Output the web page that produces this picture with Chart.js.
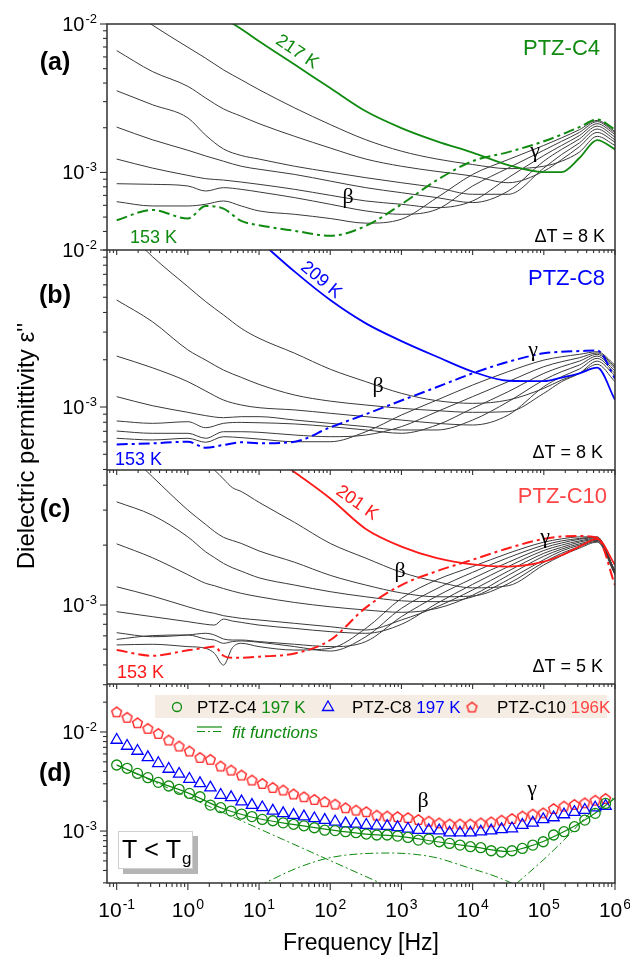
<!DOCTYPE html>
<html>
<head>
<meta charset="utf-8">
<script src="https://cdn.jsdelivr.net/npm/chart.js@4/dist/chart.umd.min.js"></script>
<style>
  html, body { margin: 0; padding: 0; background: #fff; }
  #wrap { position: relative; width: 630px; height: 957px; }
</style>
</head>
<body>
<div id="wrap"><canvas id="chart" width="630" height="957"></canvas></div>
<script>
// ---- frequency grids (Hz) ----
const freqAB = [0.1, 0.316, 1, 1.78, 3.16, 5.62, 10, 31.6, 100, 316, 1000, 3160, 10000, 31600, 100000, 178000, 316000, 562000, 1000000];
const freqC = [0.1, 0.316, 1, 1.78, 2.37, 3.16, 4.22, 5.62, 10, 31.6, 100, 316, 1000, 3160, 10000, 31600, 100000, 178000, 316000, 562000, 1000000];

// ---- (a) PTZ-C4, dT = 8 K ----
const c4_153 = [4.76e-4, 5.59e-4, 4.89e-4, 5.94e-4, 5.70e-4, 4.71e-4, 4.41e-4, 4.04e-4, 3.74e-4, 4.36e-4, 6.10e-4, 8.88e-4, 1.19e-3, 1.37e-3, 1.62e-3, 1.80e-3, 2.02e-3, 2.27e-3, 1.94e-3];
const c4_161 = [6.35e-4, 5.94e-4, 5.94e-4, 6.10e-4, 6.42e-4, 5.94e-4, 5.50e-4, 5.22e-4, 4.89e-4, 4.55e-4, 4.84e-4, 6.76e-4, 9.69e-4, 1.22e-3, 1.52e-3, 1.71e-3, 1.94e-3, 2.24e-3, 1.89e-3];
const c4_169 = [8.39e-4, 8.31e-4, 8.10e-4, 7.49e-4, 7.89e-4, 7.69e-4, 7.38e-4, 6.76e-4, 6.10e-4, 5.50e-4, 5.22e-4, 5.64e-4, 8.10e-4, 1.07e-3, 1.41e-3, 1.62e-3, 1.86e-3, 2.20e-3, 1.85e-3];
const c4_177 = [1.23e-3, 1.07e-3, 9.55e-4, 9.07e-4, 8.88e-4, 8.61e-4, 8.31e-4, 7.69e-4, 7.01e-4, 6.42e-4, 6.10e-4, 5.79e-4, 6.42e-4, 9.21e-4, 1.30e-3, 1.52e-3, 1.77e-3, 2.13e-3, 1.80e-3];
const c4_185 = [2.02e-3, 1.66e-3, 1.41e-3, 1.29e-3, 1.19e-3, 1.10e-3, 1.05e-3, 9.69e-4, 8.74e-4, 7.89e-4, 7.30e-4, 6.76e-4, 6.26e-4, 7.49e-4, 1.19e-3, 1.43e-3, 1.68e-3, 2.05e-3, 1.73e-3];
const c4_193 = [3.55e-3, 2.86e-3, 2.33e-3, 1.78e-3, 1.44e-3, 1.30e-3, 1.23e-3, 1.10e-3, 1.005e-3, 9.21e-4, 8.52e-4, 7.89e-4, 7.12e-4, 7.12e-4, 1.07e-3, 1.32e-3, 1.58e-3, 1.96e-3, 1.66e-3];
const c4_201 = [6.62e-3, 4.79e-3, 3.80e-3, 3.17e-3, 2.68e-3, 2.39e-3, 2.13e-3, 1.75e-3, 1.46e-3, 1.23e-3, 1.10e-3, 1.015e-3, 9.45e-4, 8.52e-4, 1.02e-3, 1.22e-3, 1.49e-3, 1.86e-3, 1.60e-3];
const c4_209 = [1.45e-2, 9.85e-3, 6.97e-3, 5.88e-3, 4.91e-3, 4.21e-3, 3.61e-3, 2.72e-3, 2.10e-3, 1.66e-3, 1.39e-3, 1.23e-3, 1.13e-3, 1.06e-3, 1.10e-3, 1.19e-3, 1.37e-3, 1.75e-3, 1.52e-3];
const c4_217 = [null, null, null, null, 1.10e-2, 9.26e-3, 7.65e-3, 5.33e-3, 3.70e-3, 2.58e-3, 1.99e-3, 1.62e-3, 1.36e-3, 1.12e-3, 1.005e-3, 1.005e-3, 1.25e-3, 1.65e-3, 1.43e-3];

// ---- (b) PTZ-C8, dT = 8 K (k1 = coldest black curve) ----
const c8_153 = [5.78e-4, 5.87e-4, 6.01e-4, 5.50e-4, 5.73e-4, 5.96e-4, 5.87e-4, 6.01e-4, 7.42e-4, 9.00e-4, 1.10e-3, 1.34e-3, 1.64e-3, 1.94e-3, 2.20e-3, 2.25e-3, 2.27e-3, 2.29e-3, 1.52e-3];
const c8_k1 = [6.32e-4, 6.17e-4, 6.32e-4, 5.96e-4, 6.47e-4, 6.38e-4, 6.25e-4, 6.01e-4, 6.01e-4, 6.96e-4, 8.89e-4, 1.108e-3, 1.38e-3, 1.68e-3, 1.99e-3, 2.09e-3, 2.165e-3, 2.25e-3, 1.85e-3];
const c8_k2 = [7.03e-4, 6.80e-4, 6.80e-4, 6.32e-4, 6.96e-4, 6.96e-4, 6.90e-4, 6.63e-4, 6.47e-4, 6.63e-4, 7.50e-4, 9.34e-4, 1.164e-3, 1.45e-3, 1.806e-3, 1.944e-3, 2.06e-3, 2.21e-3, 1.806e-3];
const c8_k3 = [8.15e-4, 7.87e-4, 8.06e-4, 7.38e-4, 7.87e-4, 7.98e-4, 7.94e-4, 7.80e-4, 7.50e-4, 7.14e-4, 6.80e-4, 7.68e-4, 9.81e-4, 1.252e-3, 1.638e-3, 1.806e-3, 1.96e-3, 2.165e-3, 1.763e-3];
const c8_k4 = [1.164e-3, 1.02e-3, 9.25e-4, 8.81e-4, 8.55e-4, 8.68e-4, 8.68e-4, 8.26e-4, 7.87e-4, 7.50e-4, 7.14e-4, 7.14e-4, 8.26e-4, 1.081e-3, 1.486e-3, 1.679e-3, 1.851e-3, 2.11e-3, 1.696e-3];
const c8_k5 = [2.11e-3, 1.78e-3, 1.45e-3, 1.265e-3, 1.108e-3, 1.03e-3, 9.9e-4, 9.58e-4, 9.12e-4, 8.68e-4, 8.26e-4, 7.87e-4, 7.68e-4, 8.89e-4, 1.347e-3, 1.56e-3, 1.746e-3, 2.042e-3, 1.638e-3];
const c8_k6 = [4.80e-3, 3.50e-3, 2.31e-3, 1.99e-3, 1.72e-3, 1.545e-3, 1.393e-3, 1.192e-3, 1.09e-3, 1.03e-3, 9.81e-4, 9.48e-4, 9.25e-4, 9.34e-4, 1.222e-3, 1.45e-3, 1.638e-3, 1.96e-3, 1.584e-3];
const c8_k7 = [1.53e-2, 9.1e-3, 5.84e-3, 4.69e-3, 3.86e-3, 3.17e-3, 2.74e-3, 2.20e-3, 1.74e-3, 1.45e-3, 1.222e-3, 1.097e-3, 1.055e-3, 1.108e-3, 1.315e-3, 1.486e-3, 1.638e-3, 1.87e-3, 1.45e-3];
const c8_209 = [null, null, null, null, null, null, 1.15e-2, 7.28e-3, 4.80e-3, 3.41e-3, 2.63e-3, 2.09e-3, 1.68e-3, 1.47e-3, 1.46e-3, 1.54e-3, 1.64e-3, 1.78e-3, 1.11e-3];

// ---- (c) PTZ-C10, dT = 5 K ----
const c10_153 = [5.94e-4, 5.56e-4, 5.92e-4, 6.10e-4, 6.18e-4, 5.56e-4, 5.43e-4, 5.43e-4, 5.50e-4, 5.71e-4, 6.67e-4, 9.70e-4, 1.26e-3, 1.48e-3, 1.69e-3, 1.93e-3, 2.15e-3, 2.21e-3, 2.22e-3, 2.18e-3, 1.26e-3];
const c10_k1 = [6.30e-4, 6.35e-4, 6.18e-4, 6.06e-4, 5.71e-4, 4.99e-4, 6.10e-4, 6.42e-4, 6.18e-4, 5.94e-4, 6.06e-4, 7.63e-4, 1.08e-3, 1.34e-3, 1.56e-3, 1.82e-3, 2.07e-3, 2.15e-3, 2.20e-3, 2.20e-3, 1.42e-3];
const c10_k2 = [6.72e-4, 7.02e-4, 7.07e-4, 6.75e-4, 6.67e-4, 6.42e-4, 6.55e-4, 6.60e-4, 6.50e-4, 6.18e-4, 5.87e-4, 6.93e-4, 9.62e-4, 1.21e-3, 1.46e-3, 1.73e-3, 2.00e-3, 2.10e-3, 2.16e-3, 2.19e-3, 1.44e-3];
const c10_k3 = [7.26e-4, 6.93e-4, 7.07e-4, 7.21e-4, 7.07e-4, 6.75e-4, 6.67e-4, 6.67e-4, 6.55e-4, 6.35e-4, 6.18e-4, 6.55e-4, 8.74e-4, 1.11e-3, 1.36e-3, 1.64e-3, 1.94e-3, 2.05e-3, 2.14e-3, 2.18e-3, 1.47e-3];
const c10_k4 = [9.26e-4, 8.74e-4, 8.25e-4, 8.00e-4, 7.93e-4, 8.50e-4, 8.31e-4, 8.18e-4, 7.93e-4, 7.63e-4, 7.35e-4, 7.21e-4, 8.00e-4, 1.02e-3, 1.27e-3, 1.56e-3, 1.88e-3, 2.00e-3, 2.10e-3, 2.16e-3, 1.48e-3];
const c10_k5 = [1.235e-3, 1.11e-3, 9.80e-4, 9.26e-4, 9.08e-4, 8.84e-4, 8.70e-4, 8.57e-4, 8.41e-4, 8.09e-4, 7.78e-4, 7.49e-4, 8.41e-4, 9.80e-4, 1.19e-3, 1.48e-3, 1.82e-3, 1.95e-3, 2.07e-3, 2.14e-3, 1.49e-3];
const c10_k6 = [2.03e-3, 1.73e-3, 1.42e-3, 1.285e-3, 1.25e-3, 1.21e-3, 1.175e-3, 1.145e-3, 1.10e-3, 1.03e-3, 9.80e-4, 9.44e-4, 9.19e-4, 9.62e-4, 1.12e-3, 1.41e-3, 1.76e-3, 1.91e-3, 2.03e-3, 2.12e-3, 1.48e-3];
const c10_k7 = [3.30e-3, 2.83e-3, 2.20e-3, 1.85e-3, 1.73e-3, 1.62e-3, 1.54e-3, 1.48e-3, 1.37e-3, 1.26e-3, 1.167e-3, 1.10e-3, 1.05e-3, 1.04e-3, 1.10e-3, 1.34e-3, 1.69e-3, 1.87e-3, 2.00e-3, 2.11e-3, 1.47e-3];
const c10_k8 = [6.55e-3, 4.42e-3, 3.00e-3, 2.54e-3, 2.34e-3, 2.19e-3, 2.11e-3, 2.04e-3, 1.87e-3, 1.64e-3, 1.41e-3, 1.26e-3, 1.15e-3, 1.10e-3, 1.11e-3, 1.28e-3, 1.64e-3, 1.82e-3, 1.965e-3, 2.09e-3, 1.44e-3];
const c10_k9 = [null, null, 6.05e-3, 5.15e-3, 4.76e-3, 4.30e-3, 3.89e-3, 3.72e-3, 3.28e-3, 2.60e-3, 2.04e-3, 1.72e-3, 1.46e-3, 1.31e-3, 1.22e-3, 1.25e-3, 1.59e-3, 1.77e-3, 1.93e-3, 2.07e-3, 1.42e-3];
const c10_201 = [null, null, null, null, null, null, null, null, 6.25e-3, 4.65e-3, 3.43e-3, 2.41e-3, 1.965e-3, 1.72e-3, 1.60e-3, 1.56e-3, 1.65e-3, 1.78e-3, 1.965e-3, 2.15e-3, 1.59e-3];

// ---- (d) T < Tg comparison ----
const freqD = [0.1, 0.14, 0.196, 0.274, 0.384, 0.538, 0.753, 1.05, 1.48, 2.07,
  2.89, 4.05, 5.67, 7.94, 11.1, 15.6, 21.8, 30.5, 42.7, 59.8,
  83.7, 117, 164, 230, 321, 450, 630, 882, 1235, 1729,
  2420, 3388, 4743, 6641, 9297, 13016, 18223, 25512, 35716, 50003,
  70004, 98005, 137207, 192090, 268927, 376497, 527096, 737934];
const d_c4_197 = [4.64e-3, 4.30e-3, 3.82e-3, 3.46e-3, 3.10e-3, 2.85e-3, 2.64e-3, 2.40e-3, 2.22e-3, 1.83e-3,
  1.72e-3, 1.59e-3, 1.485e-3, 1.40e-3, 1.31e-3, 1.27e-3, 1.21e-3, 1.17e-3, 1.13e-3, 1.08e-3,
  1.02e-3, 1.01e-3, 9.85e-4, 9.62e-4, 9.33e-4, 9.12e-4, 9.12e-4, 8.90e-4, 8.62e-4, 8.11e-4,
  8.30e-4, 7.80e-4, 7.50e-4, 7.22e-4, 6.95e-4, 6.79e-4, 6.33e-4, 6.14e-4, 6.33e-4, 6.68e-4,
  7.22e-4, 7.80e-4, 9.12e-4, 9.85e-4, 1.106e-3, 1.29e-3, 1.51e-3, 1.90e-3];
const d_c8_197 = [8.30e-3, 7.22e-3, 6.43e-3, 5.55e-3, 4.83e-3, 4.23e-3, 3.77e-3, 3.35e-3, 3.03e-3, 2.74e-3,
  2.31e-3, 2.19e-3, 1.98e-3, 1.83e-3, 1.73e-3, 1.60e-3, 1.51e-3, 1.45e-3, 1.40e-3, 1.34e-3,
  1.29e-3, 1.24e-3, 1.19e-3, 1.18e-3, 1.15e-3, 1.13e-3, 1.12e-3, 1.09e-3, 1.05e-3, 1.02e-3,
  1.02e-3, 1.01e-3, 9.62e-4, 9.62e-4, 9.62e-4, 9.85e-4, 1.01e-3, 1.04e-3, 1.06e-3, 1.15e-3,
  1.21e-3, 1.31e-3, 1.37e-3, 1.47e-3, 1.55e-3, 1.63e-3, 1.72e-3, 1.79e-3];
const d_c10_196 = [1.60e-2, 1.41e-2, 1.24e-2, 1.09e-2, 9.69e-3, 8.30e-3, 7.22e-3, 6.43e-3, 5.55e-3, 5.30e-3,
  4.54e-3, 4.13e-3, 3.68e-3, 3.28e-3, 3.03e-3, 2.76e-3, 2.60e-3, 2.37e-3, 2.22e-3, 2.09e-3,
  1.98e-3, 1.875e-3, 1.72e-3, 1.63e-3, 1.57e-3, 1.45e-3, 1.42e-3, 1.40e-3, 1.37e-3, 1.31e-3,
  1.26e-3, 1.21e-3, 1.18e-3, 1.18e-3, 1.18e-3, 1.21e-3, 1.24e-3, 1.29e-3, 1.34e-3, 1.42e-3,
  1.485e-3, 1.53e-3, 1.69e-3, 1.79e-3, 1.86e-3, 1.93e-3, 2.05e-3, 2.14e-3];
// fit functions for PTZ-C4
const fitF = [0.1, 0.316, 1, 3.16, 10, 31.6, 100, 316, 1000, 3160, 10000, 31600, 56200, 100000, 178000, 316000, 562000, 1000000];
const fitTotal = [4.64e-3, 3.27e-3, 2.43e-3, 1.68e-3, 1.33e-3, 1.16e-3, 1.03e-3, 9.33e-4, 8.80e-4, 7.80e-4, 6.95e-4, 6.23e-4, 6.85e-4, 7.90e-4, 9.60e-4, 1.20e-3, 1.57e-3, 2.14e-3];
const condF = [0.1, 1000];
const fitCond = [4.64e-3, 2.40e-4];
const betaF = [10, 37, 109, 686, 2800, 8230, 24300, 50000];
const fitBeta = [2.81e-4, 4.33e-4, 5.46e-4, 6.00e-4, 5.46e-4, 4.33e-4, 3.35e-4, 2.65e-4];
const gammaF = [28000, 43500, 97700, 211000, 450000, 950000];
const fitGamma = [2.29e-4, 3.05e-4, 5.09e-4, 8.69e-4, 1.52e-3, 2.15e-3];

// ---- styling ----
const FONT = '"Liberation Sans", Arial, Helvetica, sans-serif';
const SERIF = '"Liberation Serif", "Times New Roman", serif';
const GREEN = '#108a10';
const BLUE = '#0000ff';
const RED = '#ff1a1a';
const LRED = '#ff4545';
const GREY = '#3a3a3a';
const AXIS = '#303030';
const DASHDOT = [11, 4, 3, 4];
const THIN_DD = [8, 3, 2, 3];

function pts(fx, fy) { return fx.map((f, i) => ({ x: f, y: fy[i] })); }
function curve(fx, fy, axis, color, width, dash) {
  return {
    data: pts(fx, fy), yAxisID: axis, borderColor: color, borderWidth: width,
    borderDash: dash || [], pointRadius: 0, fill: false,
    cubicInterpolationMode: 'monotone', spanGaps: false
  };
}
function markers(fx, fy, axis, color, style, radius) {
  return {
    data: pts(fx, fy), yAxisID: axis, showLine: false, borderColor: color,
    backgroundColor: 'rgba(0,0,0,0)', pointStyle: style, pointRadius: radius,
    pointBorderWidth: 1.3, pointBorderColor: color, pointBackgroundColor: 'rgba(0,0,0,0)'
  };
}
function pentagon(color, r, lw) {
  const c = document.createElement('canvas');
  const s = Math.ceil(2 * r + 2 * lw + 2);
  c.width = s; c.height = s;
  const g = c.getContext('2d');
  g.strokeStyle = color; g.lineWidth = lw; g.lineJoin = 'miter';
  g.beginPath();
  for (let i = 0; i < 5; i++) {
    const a = -Math.PI / 2 + i * 2 * Math.PI / 5;
    const px = s / 2 + r * Math.cos(a), py = s / 2 + r * Math.sin(a) + 0.6;
    if (i) g.lineTo(px, py); else g.moveTo(px, py);
  }
  g.closePath(); g.stroke();
  return c;
}
const pentaImg = pentagon(RED, 5.2, 1.3);

const datasets = [
  // (a)
  curve(freqAB, c4_217, 'yA', GREEN, 1.8),
  curve(freqAB, c4_153, 'yA', GREEN, 2, DASHDOT),
  ...[c4_161, c4_169, c4_177, c4_185, c4_193, c4_201, c4_209].map(v => curve(freqAB, v, 'yA', GREY, 1)),
  // (b)
  curve(freqAB, c8_209, 'yB', BLUE, 1.8),
  curve(freqAB, c8_153, 'yB', BLUE, 2, DASHDOT),
  ...[c8_k1, c8_k2, c8_k3, c8_k4, c8_k5, c8_k6, c8_k7].map(v => curve(freqAB, v, 'yB', GREY, 1)),
  // (c)
  curve(freqC, c10_201, 'yC', RED, 1.8),
  curve(freqC, c10_153, 'yC', RED, 2, DASHDOT),
  ...[c10_k1, c10_k2, c10_k3, c10_k4, c10_k5, c10_k6, c10_k7, c10_k8, c10_k9].map(v => curve(freqC, v, 'yC', GREY, 1)),
  // (d)
  markers(freqD, d_c4_197, 'yD', GREEN, 'circle', 5),
  markers(freqD, d_c8_197, 'yD', BLUE, 'triangle', 6.5),
  markers(freqD, d_c10_196, 'yD', RED, pentaImg, 6),
  curve(fitF, fitTotal, 'yD', GREEN, 1.2),
  curve(condF, fitCond, 'yD', GREEN, 1, THIN_DD),
  curve(betaF, fitBeta, 'yD', GREEN, 1, THIN_DD),
  curve(gammaF, fitGamma, 'yD', GREEN, 1, THIN_DD)
];

function logTicks(min, max) {
  const out = [];
  for (let e = Math.floor(Math.log10(min)); e <= Math.ceil(Math.log10(max)); e++) {
    for (let m = 1; m <= 9; m++) {
      const v = m * Math.pow(10, e);
      if (v >= min * 0.9999 && v <= max * 1.0001) out.push({ v: v, major: m === 1, e: e });
    }
  }
  return out;
}
function powLabel(ctx, base, exp, x, y, align, size) {
  const es = Math.round(size * 0.66);
  ctx.font = size + 'px ' + FONT;
  const wb = ctx.measureText(base).width;
  ctx.font = es + 'px ' + FONT;
  const we = ctx.measureText(exp).width;
  const x0 = align === 'right' ? x - wb - we - 1 : (align === 'center' ? x - (wb + we + 1) / 2 : x);
  ctx.textAlign = 'left'; ctx.textBaseline = 'alphabetic'; ctx.fillStyle = '#000';
  ctx.font = size + 'px ' + FONT;
  ctx.fillText(base, x0, y);
  ctx.font = es + 'px ' + FONT;
  ctx.fillText(exp, x0 + wb + 1, y - size * 0.4);
}
function txt(ctx, s, x, y, font, color, align) {
  ctx.font = font; ctx.fillStyle = color; ctx.textAlign = align || 'left'; ctx.textBaseline = 'alphabetic';
  ctx.fillText(s, x, y);
}
function rotTxt(ctx, s, cx, cy, deg, font, color) {
  ctx.save();
  ctx.translate(cx, cy); ctx.rotate(deg * Math.PI / 180);
  ctx.font = font; ctx.fillStyle = color; ctx.textAlign = 'center'; ctx.textBaseline = 'middle';
  ctx.fillText(s, 0, 0);
  ctx.restore();
}

const PANELS = ['yA', 'yB', 'yC', 'yD'];

const panelPlugin = {
  id: 'panelPlugin',
  beforeDatasetDraw(chart, args) {
    const ds = chart.data.datasets[args.index];
    const s = chart.scales[ds.yAxisID];
    const A = chart.chartArea;
    chart.ctx.save();
    chart.ctx.beginPath();
    chart.ctx.rect(A.left, s.top, A.right - A.left, s.bottom - s.top);
    chart.ctx.clip();
  },
  afterDatasetDraw(chart) { chart.ctx.restore(); },
  afterDraw(chart) {
    const ctx = chart.ctx, A = chart.chartArea, xs = chart.scales.x;
    const ys = PANELS.map(id => chart.scales[id]);
    ctx.save();
    ctx.strokeStyle = AXIS; ctx.lineWidth = 1.1;
    const seg = (x1, y1, x2, y2) => { ctx.beginPath(); ctx.moveTo(x1, y1); ctx.lineTo(x2, y2); ctx.stroke(); };

    // x ticks: outward at the bottom, downward at each inner panel border
    logTicks(xs.min, xs.max).forEach(t => {
      const px = xs.getPixelForValue(t.v);
      seg(px, A.bottom, px, A.bottom + (t.major ? 7 : 4));
      ys.slice(1).forEach(s => seg(px, s.top, px, s.top + (t.major ? 5 : 3)));
    });
    // y ticks + labels
    ys.forEach(s => {
      logTicks(s.min, s.max).forEach(t => {
        const py = s.getPixelForValue(t.v);
        seg(A.left - (t.major ? 7 : 4), py, A.left, py);
        if (t.major) powLabel(ctx, '10', String(t.e), 97, py + 7, 'right', 20);
      });
    });
    // frame + separators
    ctx.lineWidth = 1.5;
    ctx.strokeRect(A.left, A.top, A.right - A.left, A.bottom - A.top);
    ys.slice(1).forEach(s => seg(A.left, s.top, A.right, s.top));

    // x tick labels
    for (let e = -1; e <= 6; e++) {
      powLabel(ctx, '10', String(e), xs.getPixelForValue(Math.pow(10, e)), 917, 'center', 21);
    }
    // axis titles
    txt(ctx, 'Frequency [Hz]', 361, 950, '23px ' + FONT, '#000', 'center');
    rotTxt(ctx, "Dielectric permittivity \u03b5''", 27, 446, -90, '24px ' + FONT, '#000');

    // panel letters
    const bold = 'bold 25px ' + FONT;
    [['(a)', 63], ['(b)', 296], ['(c)', 510], ['(d)', 774]].forEach(p => rotTxt(ctx, p[0], 55, p[1], 0, bold, '#000'));

    // sample names
    txt(ctx, 'PTZ-C4', 600, 55, '22px ' + FONT, GREEN, 'right');
    txt(ctx, 'PTZ-C8', 605, 285, '22px ' + FONT, BLUE, 'right');
    txt(ctx, 'PTZ-C10', 607, 503, '22px ' + FONT, LRED, 'right');
    // temperature steps
    const f18 = '18px ' + FONT;
    txt(ctx, '\u0394T = 8 K', 605, 242, f18, '#000', 'right');
    txt(ctx, '\u0394T = 8 K', 603, 458, f18, '#000', 'right');
    txt(ctx, '\u0394T = 5 K', 603, 672, f18, '#000', 'right');
    txt(ctx, '153 K', 130, 243, f18, GREEN);
    txt(ctx, '153 K', 115, 465, f18, BLUE);
    txt(ctx, '153 K', 117, 678, f18, RED);
    rotTxt(ctx, '217 K', 297, 52, 34, f18, GREEN);
    rotTxt(ctx, '209 K', 321, 280, 40, f18, BLUE);
    rotTxt(ctx, '201 K', 357, 503, 35, f18, RED);
    // relaxation labels
    const g22 = '22px ' + SERIF;
    [[348, 203, '\u03b2'], [535, 157, '\u03b3'], [378, 392, '\u03b2'], [533, 356, '\u03b3'],
     [400, 577, '\u03b2'], [545, 543, '\u03b3'], [423, 807, '\u03b2'], [532, 795, '\u03b3']]
      .forEach(g => txt(ctx, g[2], g[0], g[1], g22, '#000', 'center'));

    // legend of panel (d)
    ctx.fillStyle = '#f5ede3';
    ctx.fillRect(155, 695, 452, 23);
    const f17 = '17px ' + FONT;
    const item = (x, name, temp, col) => {
      txt(ctx, name, x, 713, f17, '#000');
      ctx.font = f17;
      const w = ctx.measureText(name + ' ').width;
      txt(ctx, temp, x + w, 713, f17, col);
    };
    ctx.lineWidth = 1.3;
    ctx.strokeStyle = GREEN;
    ctx.beginPath(); ctx.arc(177, 707, 4.5, 0, Math.PI * 2); ctx.stroke();
    item(197, 'PTZ-C4', '197 K', GREEN);
    ctx.strokeStyle = BLUE;
    ctx.beginPath(); ctx.moveTo(328, 701); ctx.lineTo(333.5, 710.5); ctx.lineTo(322.5, 710.5); ctx.closePath(); ctx.stroke();
    item(352, 'PTZ-C8', '197 K', BLUE);
    ctx.drawImage(pentaImg, 472 - pentaImg.width / 2, 707 - pentaImg.height / 2);
    item(497, 'PTZ-C10', '196K', LRED);
    // fit functions sample
    ctx.strokeStyle = GREEN; ctx.lineWidth = 1.2;
    seg(197, 727, 222, 727);
    ctx.setLineDash([8, 3, 2, 3]);
    seg(197, 731.5, 222, 731.5);
    ctx.setLineDash([]);
    txt(ctx, 'fit functions', 232, 738, 'italic 17px ' + FONT, GREEN);

    // T < Tg box
    ctx.fillStyle = '#b5b5b5';
    ctx.fillRect(123, 836, 75, 38);
    ctx.fillStyle = '#fff';
    ctx.fillRect(118, 831, 75, 38);
    ctx.strokeStyle = '#cfcfcf'; ctx.lineWidth = 1;
    ctx.strokeRect(118.5, 831.5, 74, 37);
    txt(ctx, 'T < T', 122, 858, '25px ' + FONT, '#000');
    ctx.font = '25px ' + FONT;
    const wt = ctx.measureText('T < T').width;
    txt(ctx, 'g', 122 + wt + 1, 864, '17px ' + FONT, '#000');
    ctx.restore();
  }
};

const hidden = { ticks: { display: false }, grid: { display: false }, border: { display: false } };
function yAxis(min, max, weight, stackWeight) {
  return Object.assign({
    type: 'logarithmic', position: 'left', stack: 'panels', stackWeight: stackWeight, weight: weight,
    min: min, max: max, afterFit: s => { s.width = 107; }
  }, hidden);
}

new Chart(document.getElementById('chart'), {
  type: 'line',
  data: { datasets: datasets },
  options: {
    responsive: false,
    animation: false,
    events: [],
    parsing: true,
    layout: { padding: { top: 24, right: 15, bottom: 0, left: 0 } },
    plugins: { legend: { display: false }, tooltip: { enabled: false } },
    scales: {
      x: Object.assign({ type: 'logarithmic', position: 'bottom', min: 0.0731, max: 1e6,
        afterFit: s => { s.height = 74; } }, hidden),
      yA: yAxis(3.04e-4, 1e-2, 4, 226),
      yB: yAxis(3.97e-4, 1e-2, 3, 220),
      yC: yAxis(4.01e-4, 4.77e-3, 2, 214),
      yD: yAxis(2.99e-4, 3.05e-2, 1, 199)
    }
  },
  plugins: [panelPlugin]
});
</script>
</body>
</html>
